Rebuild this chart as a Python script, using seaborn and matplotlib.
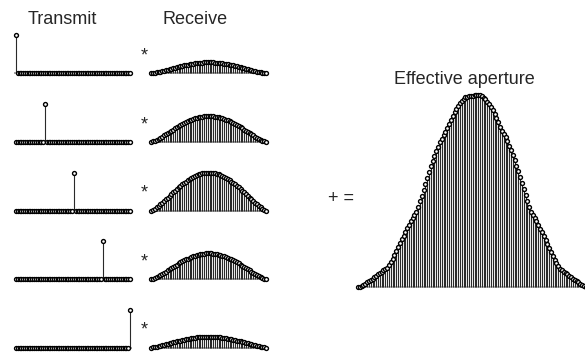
import numpy as np
import pandas as pd
import matplotlib
matplotlib.use("Agg")
import matplotlib.pyplot as plt
import seaborn as sns

# ---------------- data ----------------
n_elements = 64
tx_positions = [0, 16, 32, 48, 63]          # firing element for each transmit event
rx_weights = [0.29, 0.68, 1.0, 0.68, 0.29]   # receive apodization scale per event
rx_window = [
    0.000, 0.020, 0.050, 0.084, 0.122, 0.162, 0.204, 0.248,
    0.293, 0.338, 0.383, 0.429, 0.474, 0.519, 0.563, 0.606,
    0.648, 0.688, 0.726, 0.763, 0.797, 0.830, 0.859, 0.886,
    0.911, 0.933, 0.952, 0.968, 0.980, 0.990, 0.996, 1.000,
    1.000, 0.996, 0.990, 0.980, 0.968, 0.952, 0.933, 0.911,
    0.886, 0.859, 0.830, 0.797, 0.763, 0.726, 0.688, 0.648,
    0.606, 0.563, 0.519, 0.474, 0.429, 0.383, 0.338, 0.293,
    0.248, 0.204, 0.162, 0.122, 0.084, 0.050, 0.020, 0.000,
]
titles = ["Transmit", "Receive", "Effective aperture"]

# ---------------- style ----------------
sns.set_theme(style="white")
plt.rcParams["font.family"] = ["Liberation Sans", "DejaVu Sans"]

W, H = 585, 354
fig = plt.figure(figsize=(W / 100, H / 100), dpi=100)

def make_ax(x0px, x1px, xd0, xd1, ybase_px, ytop_px, yd_top, pad=6):
    kx = (x1px - x0px) / (xd1 - xd0)
    ky = (ybase_px - ytop_px) / yd_top
    left = x0px - kx
    right = x1px + kx
    top = ytop_px - pad
    bottom = ybase_px + pad
    ax = fig.add_axes([left / W, 1 - bottom / H, (right - left) / W, (bottom - top) / H])
    ax.set_xlim(xd0 - 1, xd1 + 1)
    ax.set_ylim(-pad / ky, yd_top + pad / ky)
    ax.set_axis_off()
    return ax

def stem(ax, x, y, base_color="#9a9a9a"):
    x = np.asarray(x)
    y = np.asarray(y)
    xl = ax.get_xlim()
    yl = ax.get_ylim()
    ax.axhline(0, color=base_color, lw=1.3, zorder=1)
    nz = y != 0
    ax.vlines(x[nz], 0, y[nz], colors="#2a2a2a", lw=0.8, zorder=2)
    df = pd.DataFrame({"x": x, "y": y})
    sns.scatterplot(data=df, x="x", y="y", ax=ax, marker="o", s=8,
                    facecolor="white", edgecolor="black", linewidth=1.0,
                    legend=False, zorder=3, clip_on=False)
    ax.set_xlabel("")
    ax.set_ylabel("")
    ax.set_xlim(xl)
    ax.set_ylim(yl)

idx = np.arange(n_elements)
rx = np.asarray(rx_window)
row_base = [73.3, 141.9, 210.5, 279.1, 347.7]
unit_px = 38.0

eff = np.zeros(2 * n_elements - 1)
for r, (p, w) in enumerate(zip(tx_positions, rx_weights)):
    tx = np.zeros(n_elements)
    tx[p] = 1.0
    b = row_base[r]
    ax_t = make_ax(16, 130, 0, n_elements - 1, b, b - unit_px, 1.0)
    stem(ax_t, idx, tx)
    ax_r = make_ax(151.3, 266, 0, n_elements - 1, b, b - unit_px, 1.0)
    stem(ax_r, idx, w * rx)
    fig.text(141 / W, 1 - (b - 12.8) / H, "*", fontsize=13, ha="left", va="baseline")
    eff[p:p + n_elements] += w * rx

ax_e = make_ax(358, 358 + 126 * 1.821, 0, len(eff) - 1, 287.3, 95, eff.max())
stem(ax_e, np.arange(len(eff)), eff, base_color="#b0b0b0")

fig.text(62 / W, 1 - 24 / H, titles[0], fontsize=13, ha="center", va="baseline")
fig.text(195 / W, 1 - 24 / H, titles[1], fontsize=13, ha="center", va="baseline")
fig.text(464 / W, 1 - 84 / H, titles[2], fontsize=13, ha="center", va="baseline")
fig.text(328 / W, 1 - 203 / H, "+ =", fontsize=13, ha="left", va="baseline")

fig.savefig("out.png", dpi=100)
